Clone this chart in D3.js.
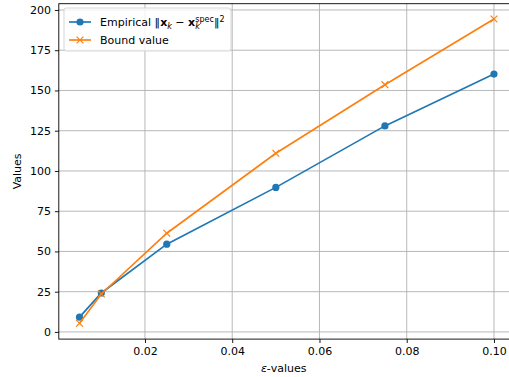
<!DOCTYPE html>
<html><head><meta charset="utf-8">
<script src="https://cdn.jsdelivr.net/npm/d3@7"></script>
<style>body{margin:0;background:#fff}svg{display:block}text{font-family:"DejaVu Sans",sans-serif}</style>
</head><body><svg id="c" width="509" height="377"></svg>
<script>
const epsValues = [0.005, 0.01, 0.025, 0.05, 0.075, 0.1];
const empirical = [9.2, 24.2, 54.5, 89.8, 128, 160.2];
const bound = [5.4, 23.6, 61.3, 111, 153.6, 194.4];
const xTicks = [0.02, 0.04, 0.06, 0.08, 0.10];
const yTicks = [0, 25, 50, 75, 100, 125, 150, 175, 200];

const svg = d3.select("#c");
const L = 58.8, R = 514.7, T = 3.7, B = 339.1;
const x = d3.scaleLinear().domain([0.00025, 0.10475]).range([L, R]);
const y = d3.scaleLinear().domain([-4.45, 203.9]).range([B, T]);
const fs = 11;

// grid
svg.append("g").selectAll("line").data(xTicks).join("line")
  .attr("x1", d => x(d)).attr("x2", d => x(d)).attr("y1", T).attr("y2", B)
  .attr("stroke", "#b0b0b0").attr("stroke-width", 0.9);
svg.append("g").selectAll("line").data(yTicks).join("line")
  .attr("x1", L).attr("x2", R).attr("y1", d => y(d)).attr("y2", d => y(d))
  .attr("stroke", "#b0b0b0").attr("stroke-width", 0.9);

// axes
const xAxis = d3.axisBottom(x).tickValues(xTicks).tickFormat(d3.format(".2f")).tickSize(3.9).tickPadding(3.9);
const yAxis = d3.axisLeft(y).tickValues(yTicks).tickFormat(d3.format("d")).tickSize(3.9).tickPadding(3.9);
const gx = svg.append("g").attr("transform", `translate(0,${B})`).call(xAxis);
const gy = svg.append("g").attr("transform", `translate(${L},0)`).call(yAxis);
[gx, gy].forEach(g => {
  g.select(".domain").remove();
  g.selectAll("text").attr("font-size", fs).attr("font-family", "DejaVu Sans").attr("fill", "#000");
  g.selectAll("line").attr("stroke", "#000").attr("stroke-width", 0.9);
});
svg.append("rect").attr("x", L).attr("y", T).attr("width", R - L).attr("height", B - T)
  .attr("fill", "none").attr("stroke", "#000").attr("stroke-width", 0.9);

// labels
svg.append("text").attr("x", (L + R) / 2 - 3).attr("y", 372).attr("text-anchor", "middle").attr("font-size", fs)
  .html('<tspan font-style="italic">ε</tspan>-values');
svg.append("text").attr("transform", `translate(21,${(T + B) / 2}) rotate(-90)`).attr("text-anchor", "middle")
  .attr("font-size", fs).text("Values");

// series
const C1 = "#1f77b4", C2 = "#ff7f0e";
const line = d3.line().x(d => x(d[0])).y(d => y(d[1]));
const s1 = epsValues.map((e, i) => [e, empirical[i]]);
const s2 = epsValues.map((e, i) => [e, bound[i]]);
svg.append("path").attr("d", line(s1)).attr("fill", "none").attr("stroke", C1).attr("stroke-width", 1.67);
svg.append("g").selectAll("circle").data(s1).join("circle")
  .attr("cx", d => x(d[0])).attr("cy", d => y(d[1])).attr("r", 3.6).attr("fill", C1);
svg.append("path").attr("d", line(s2)).attr("fill", "none").attr("stroke", C2).attr("stroke-width", 1.67);
const m = 3.4;
svg.append("g").selectAll("path").data(s2).join("path")
  .attr("d", d => { const cx = x(d[0]), cy = y(d[1]); return `M${cx-m},${cy-m}L${cx+m},${cy+m}M${cx-m},${cy+m}L${cx+m},${cy-m}`; })
  .attr("stroke", C2).attr("stroke-width", 1.2).attr("fill", "none");

// legend
const lg = svg.append("g").attr("transform", "translate(64,8)");
lg.append("rect").attr("x", 0).attr("y", 0).attr("width", 167).attr("height", 43).attr("rx", 2.5)
  .attr("fill", "#fff").attr("fill-opacity", 0.8).attr("stroke", "#d0d0d0").attr("stroke-width", 0.9);
lg.append("line").attr("x1", 5).attr("x2", 27).attr("y1", 14).attr("y2", 14).attr("stroke", C1).attr("stroke-width", 1.67);
lg.append("circle").attr("cx", 16).attr("cy", 14).attr("r", 3.6).attr("fill", C1);
lg.append("line").attr("x1", 5).attr("x2", 27).attr("y1", 32).attr("y2", 32).attr("stroke", C2).attr("stroke-width", 1.67);
lg.append("path").attr("d", `M${16-m},${32-m}L${16+m},${32+m}M${16-m},${32+m}L${16+m},${32-m}`).attr("stroke", C2).attr("stroke-width", 1.2);
lg.append("text").attr("x", 36).attr("y", 18).attr("font-size", fs)
  .html('Empirical ‖<tspan font-weight="bold">x</tspan><tspan font-style="italic" font-size="8" dy="2.5">k</tspan><tspan dy="-2.5"> − </tspan><tspan font-weight="bold">x</tspan><tspan font-style="italic" font-size="8" dy="2.5">k</tspan><tspan font-size="8" dx="-4.5" dy="-7">spec</tspan><tspan dy="4.5">‖</tspan><tspan font-size="8" dy="-4">2</tspan>');
lg.append("text").attr("x", 36).attr("y", 36).attr("font-size", fs).text("Bound value");
</script></body></html>
